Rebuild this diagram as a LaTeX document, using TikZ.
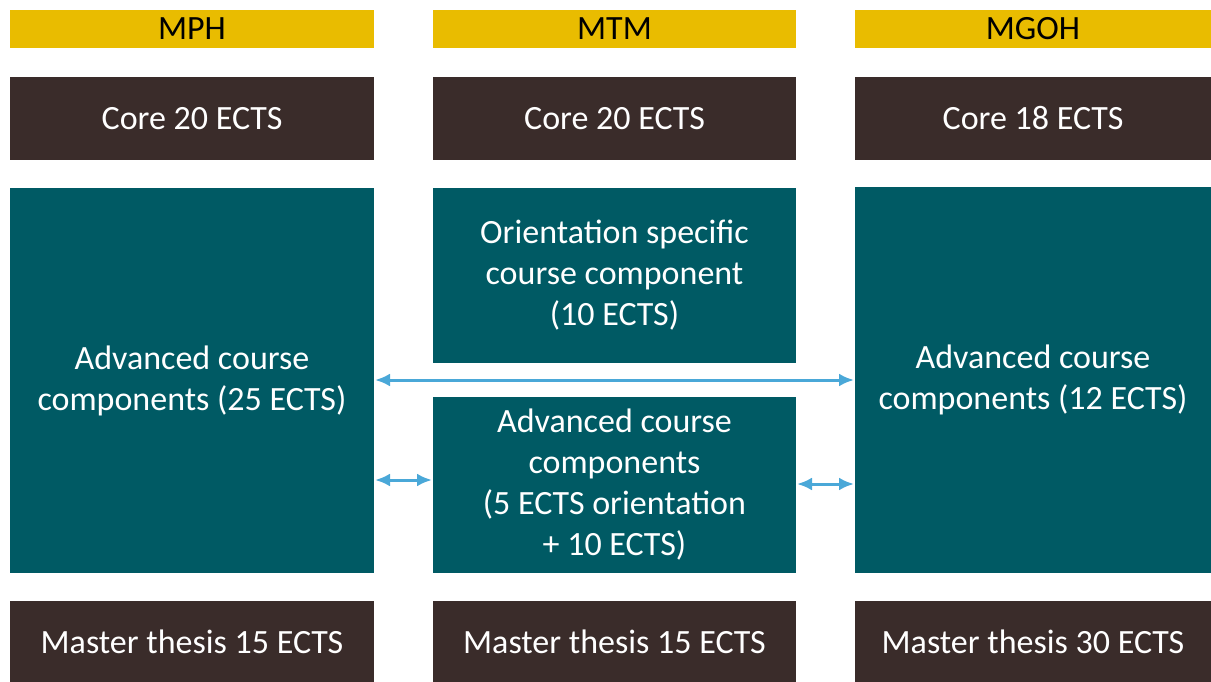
\documentclass[tikz,border=0pt]{standalone}
\usepackage{fontspec}
\setmainfont{Carlito}
\usetikzlibrary{arrows.meta}
\definecolor{hdr}{HTML}{E9BC00}
\definecolor{brn}{HTML}{3A2C2A}
\definecolor{tea}{HTML}{005A64}
\definecolor{arw}{HTML}{4AA8D8}
\begin{document}
\begin{tikzpicture}[x=1pt,y=-1pt,
  box/.style={inner sep=0pt,outer sep=0pt,align=center,font=\fontsize{34}{41}\selectfont},
  hbox/.style={box,fill=hdr,text=black},
  dbox/.style={box,fill=brn,text=white},
  tbox/.style={box,fill=tea,text=white},
  arr/.style={draw=arw,line width=3pt,{Latex[length=15pt,width=13pt]}-{Latex[length=15pt,width=13pt]},shorten <=1pt,shorten >=1pt}]
\useasboundingbox (0,0) rectangle (1211,682);
% headers
\node[hbox,minimum width=364pt,minimum height=38pt] (h1) at (192,29) {MPH};
\node[hbox,minimum width=363pt,minimum height=38pt] (h2) at (614.5,29) {MTM};
\node[hbox,minimum width=356pt,minimum height=38pt] (h3) at (1033,29) {MGOH};
% core
\node[dbox,minimum width=364pt,minimum height=83pt] (c1) at (192,118.5) {Core 20 ECTS};
\node[dbox,minimum width=363pt,minimum height=83pt] (c2) at (614.5,118.5) {Core 20 ECTS};
\node[dbox,minimum width=356pt,minimum height=83pt] (c3) at (1033,118.5) {Core 18 ECTS};
% middle
\node[tbox,minimum width=364pt,minimum height=385pt] (a1) at (192,380.5) {Advanced course\\components (25 ECTS)};
\node[tbox,minimum width=363pt,minimum height=175pt] (o2) at (614.5,275.5) {Orientation specific\\course component\\(10 ECTS)};
\node[tbox,minimum width=363pt,minimum height=176pt] (a2) at (614.5,485) {Advanced course\\components\\(5 ECTS orientation\\+ 10 ECTS)};
\node[tbox,minimum width=356pt,minimum height=386pt] (a3) at (1033,380) {Advanced course\\components (12 ECTS)};
% thesis
\node[dbox,minimum width=364pt,minimum height=81pt] (t1) at (192,641.5) {Master thesis 15 ECTS};
\node[dbox,minimum width=363pt,minimum height=81pt] (t2) at (614.5,641.5) {Master thesis 15 ECTS};
\node[dbox,minimum width=356pt,minimum height=81pt] (t3) at (1033,641.5) {Master thesis 30 ECTS};
% arrows
\coordinate (ya) at (0,380);
\coordinate (yb) at (0,480);
\coordinate (yc) at (0,484);
\draw[arr] (a1.east |- ya) -- (a3.west |- ya);
\draw[arr] (a1.east |- yb) -- (a2.west |- yb);
\draw[arr] (a2.east |- yc) -- (a3.west |- yc);
\end{tikzpicture}
\end{document}
